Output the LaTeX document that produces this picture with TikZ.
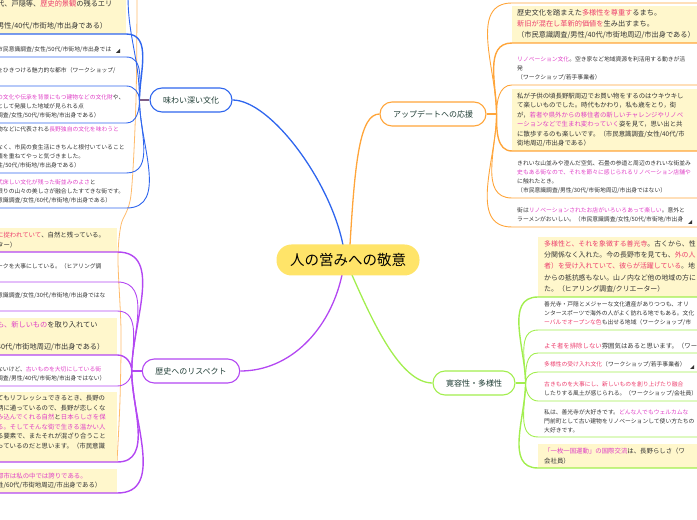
\documentclass[tikz,border=0pt]{standalone}
\usepackage{fontspec}
\setmainfont{Noto Sans CJK JP}
\usepackage{xcolor}
\usepackage{tikz}
\usetikzlibrary{calc}
\definecolor{bblue}{HTML}{2F66EE}
\definecolor{bpurple}{HTML}{B347F2}
\definecolor{borange}{HTML}{FFA53A}
\definecolor{bgreen}{HTML}{A2EE4E}
\definecolor{stubgray}{HTML}{7E5E86}
\definecolor{rootyel}{HTML}{FFE469}
\definecolor{leafbg}{HTML}{FFF7CC}
\definecolor{hubtxt}{HTML}{1E3C34}
\definecolor{txt}{HTML}{333333}
\definecolor{hlred}{HTML}{EC3F6E}
\definecolor{hlpink}{HTML}{DF40C6}
\newcommand{\hlr}[1]{\textcolor{hlred}{#1}}
\newcommand{\hlp}[1]{\textcolor{hlpink}{#1}}
\newcommand{\fsS}{\fontsize{5.8}{9}\selectfont}
\newcommand{\fsM}{\fontsize{6.4}{9.5}\selectfont}
\newcommand{\fsL}{\fontsize{7.2}{10.8}\selectfont}

\begin{document}
\begin{tikzpicture}[x=1pt,y=1pt,
  rootnode/.style={fill=rootyel,rounded corners=15pt,minimum width=143pt,minimum height=31pt,
                   inner sep=0pt,font=\fontsize{14.5}{16}\selectfont},
  topic/.style={draw=#1,fill=white,line width=1.1pt,rounded corners=12pt,minimum width=82pt,
                minimum height=24pt,inner xsep=13pt,inner ysep=0pt,text=hubtxt,font=\fontsize{8}{9}\selectfont},
  note/.style={inner xsep=3pt,inner ysep=4pt,align=left,text=txt,anchor=south west,font=\fsS},
  notebox/.style={note,fill=leafbg},
  branchline/.style={draw=#1,line width=1.3pt},
  stem/.style={draw=#1,line width=1.6pt},
  twig/.style={draw=#1,line width=0.9pt},
  boxtwig/.style={draw=#1,line width=1.4pt}]
\useasboundingbox (0,0) rectangle (697,520);
\clip (0,0) rectangle (697,520);

% stray line on the left
\draw[borange!75,line width=0.8pt] plot[smooth] coordinates
  {(137,522) (136,420) (131,325) (121,295) (118,260) (121,190) (120,120) (117,58)};

% main branches
\coordinate (rtop) at (348,275);
\coordinate (rbot) at (348,245);
\node[topic=bblue] (aji) at (191,420) {味わい深い文化};
\node[topic=bpurple] (reki) at (191,149) {歴史へのリスペクト};
\node[topic=borange] (upd) at (433,406) {アップデートへの応援};
\node[topic=bgreen] (kan) at (474,137) {寛容性・多様性};
\draw[branchline=bblue] ($(rtop)+(-5,0)$) .. controls (330,340) and (270,420) .. (aji.east);
\draw[branchline=borange] ($(rtop)+(2,0)$) .. controls (355,360) and (360,406) .. (upd.west);
\draw[branchline=bpurple] ($(rbot)+(-6,0)$) .. controls (330,190) and (290,149) .. (reki.east);
\draw[branchline=bgreen] ($(rbot)+(4,0)$) .. controls (372,200) and (400,137) .. (kan.west);
\node[rootnode] (root) at (348,260) {人の営みへの敬意};

% --- 味わい深い文化
\coordinate (ajis) at ($(aji.west)+(-10,0)$);
\draw[stem=stubgray] (aji.west) -- (ajis);
\node[notebox,text width=126pt,font=\fsL] (w1) at (-6,486)
  {代、戸隠等、\hlr{歴史的景観}の残るエリ\\~\\男性/40代/市街地/市出身である）};
\node[note,text width=126pt] (w2) at (-6,463) {市民意識調査/女性/50代/市街地/市出身では};
\node[note,text width=126pt] (w3) at (-6,434) {をひきつける魅力的な都市（ワークショップ/\\~};
\node[note,text width=126pt] (w4) at (-6,397)
  {\hlp{の文化や伝承を背景にもつ建物などの文化財}や、\\として発展した地域が見られる点\\調査/女性/50代/市街地/市出身である）};
\node[note,text width=126pt] (w5) at (-6,347)
  {物などに代表される\hlp{長野独自の文化を味わうと}\\~\\なく、市民の食生活にきちんと根付いていること\\値を重ねてやっと気づきました。\\性/50代/市街地/市出身である）};
\node[note,text width=126pt] (w6) at (-6,312)
  {\hlp{式床しい文化が残った街並みのよさ}と\\限りの山々の美しさが融合したすてきな街です。\\意識調査/女性/60代/市街地/市出身である）};
\fill[txt] (116,467) -- (120,467) -- (120,471) -- cycle;
\coordinate (w0) at (128,524);
\draw[twig=bblue] (w0) to[out=-90,in=90] (ajis);
\draw[boxtwig=bblue] (w1.south west) -- (w1.south east) to[out=0,in=90] (ajis);
\draw[twig=bblue] (w2.south west) -- (w2.south east) to[out=0,in=90] (ajis);
\draw[twig=bblue] (w3.south west) -- (w3.south east) to[out=0,in=90] (ajis);
\draw[twig=bblue] (w4.south west) -- (w4.south east) to[out=0,in=270] (ajis);
\draw[twig=bblue] (w5.south west) -- (w5.south east) to[out=0,in=270] (ajis);
\draw[twig=bblue] (w6.south west) -- (w6.south east) to[out=0,in=270] (ajis);

% --- 歴史へのリスペクト
\coordinate (rekis) at ($(reki.west)+(-10,0)$);
\draw[stem=bpurple] (reki.west) -- (rekis);
\node[notebox,text width=117pt,font=\fsM] (h1) at (-6,268) {\hlr{に捉われていて}、自然と残っている。\\ター）};
\node[note,text width=117pt] (h2) at (-6,238) {ークを大事にしている。（ヒアリング調\\~};
\node[note,text width=117pt] (h3) at (-6,209) {意識調査/女性/30代/市街地/市出身ではな\\~};
\node[notebox,text width=117pt,font=\fsL] (h4) at (-6,165)
  {\hlp{も、新しいもの}を取り入れてい\\~\\40代/市街地周辺/市出身である）};
\node[note,text width=117pt] (h5) at (-6,134)
  {ないけど、\hlp{古いものを大切にしている街}\\調査/男性/40代/市街地/市出身ではない）};
\node[notebox,text width=117pt,font=\fsM] (h6) at (-6,58)
  {てもリフレッシュできるとき、長野の\\柄に通っているので、長野が恋しくな\\\hlp{み込んでくれる自然}と\hlp{日本らしさを保}\\\hlp{る。そしてそんな街で生きる温かい人}\\る要素で、またそれが混ざり合うこと\\っているのだと思います。（市民意識\\~};
\node[notebox,text width=117pt,font=\fsM] (h7) at (-6,27)
  {\hlp{都市は私の中では誇りである。}\\性/60代/市街地周辺/市出身である）};
\draw[boxtwig=bpurple] (h1.south west) -- (h1.south east) to[out=0,in=90] (rekis);
\draw[twig=bpurple] (h2.south west) -- (h2.south east) to[out=0,in=90] (rekis);
\draw[twig=bpurple] (h3.south west) -- (h3.south east) to[out=0,in=90] (rekis);
\draw[boxtwig=bpurple] (h4.south west) -- (h4.south east) to[out=0,in=90] (rekis);
\draw[twig=bpurple] (h5.south west) -- (h5.south east) to[out=0,in=270] (rekis);
\draw[boxtwig=bpurple] (h6.south west) -- (h6.south east) to[out=0,in=270] (rekis);
\draw[boxtwig=bpurple] (h7.south west) -- (h7.south east) to[out=0,in=270] (rekis);

% --- アップデートへの応援
\coordinate (upds) at ($(upd.east)+(10,0)$);
\draw[stem=borange] (upd.east) -- (upds);
\node[notebox,text width=300pt,inner xsep=5pt,font=\fsL] (u1) at (512,477)
  {歴史文化を踏まえた\hlr{多様性を尊重す}るまち。\\\hlr{新旧が混在し革新的価値を}生み出すまち。\\（市民意識調査/男性/40代/市街地周辺/市出身である）};
\node[note,text width=300pt,inner xsep=5pt] (u2) at (512,435)
  {\hlp{リノベーション文化}。空き家など地域資源を利活用する動きが活\\発\\（ワークショップ/若手事業者）};
\node[notebox,text width=300pt,inner xsep=5pt,font=\fsM] (u3) at (512,369)
  {私が子供の頃長野駅周辺でお買い物をするのはウキウキし\\て楽しいものでした。時代もかわり，私も歳をとり，街\\が，\hlp{若者や県外からの移住者の新しいチャレンジやリノベ}\\\hlp{ーションなどで生まれ変わっていく}姿を見て，思い出と共\\に散歩するのも楽しいです。（市民意識調査/女性/40代/市\\街地周辺/市出身である）};
\node[note,text width=300pt,inner xsep=5pt] (u4) at (512,322)
  {きれいな山並みや澄んだ空気、石畳の参道と周辺のきれいな街並み\\\hlp{史もある街なので、それを節々に感じられるリノベーション店舗や}\\に触れたとき。\\（市民意識調査/男性/30代/市街地周辺/市出身ではない）};
\node[note,text width=300pt,inner xsep=5pt] (u5) at (512,293)
  {街は\hlp{リノベーションされたお店がいろいろあって楽しい}。意外と\\ラーメンがおいしい。（市民意識調査/女性/50代/市街地/市出身};
\fill[txt] (688,296) -- (692,296) -- (692,300) -- cycle;
\coordinate (u0) at (512,517);
\draw[twig=borange] (700,517) -- (u0) to[out=180,in=90] (upds);
\draw[boxtwig=borange] (u1.south east) -- (u1.south west) to[out=180,in=90] (upds);
\draw[twig=borange] (u2.south east) -- (u2.south west) to[out=180,in=90] (upds);
\draw[boxtwig=borange] (u3.south east) -- (u3.south west) to[out=180,in=270] (upds);
\draw[twig=borange] (u4.south east) -- (u4.south west) to[out=180,in=270] (upds);
\draw[twig=borange] (u5.south east) -- (u5.south west) to[out=180,in=270] (upds);

% --- 寛容性・多様性
\coordinate (kans) at ($(kan.east)+(10,0)$);
\draw[stem=bgreen] (kan.east) -- (kans);
\node[notebox,text width=300pt,inner xsep=6pt,font=\fontsize{6.9}{11.3}\selectfont] (k1) at (538,223)
  {\hlr{多様性と、それを象徴する善光寺}。古くから、性\\分関係なく入れた。今の長野市を見ても、\hlr{外の人}\\\hlr{者）を受け入れていて、彼らが活躍している}。地\\からの抵抗感もない。山ノ内など他の地域の方に\\た。（ヒアリング調査/クリエーター）};
\node[note,text width=300pt,inner xsep=6pt] (k2) at (538,190)
  {善光寺・戸隠とメジャーな文化遺産がありつつも、オリ\\ンタースポーツで海外の人がよく訪れる地でもある。文化\\\hlr{ーバルでオープンな色}も出せる地域（ワークショップ/市};
\node[note,text width=300pt,inner xsep=6pt,font=\fsM] (k3) at (538,167)
  {\hlr{よそ者を排除しない}雰囲気はあると思います。（ワー};
\node[note,text width=300pt,inner xsep=6pt] (k4) at (538,148)
  {\hlr{多様性の受け入れ文化}（ワークショップ/若手事業者）};
\fill[txt] (690,151) -- (694,151) -- (694,155) -- cycle;
\node[note,text width=300pt,inner xsep=6pt] (k5) at (538,119)
  {\hlr{古きものを大事にし、新しいものを創り上げたり融合}\\したりする風土が感じられる。（ワークショップ/会社員）};
\node[note,text width=300pt,inner xsep=6pt] (k6) at (538,83)
  {私は、善光寺が大好きです。\hlp{どんな人でもウェルカムな}\\門前町として古い建物をリノベーションして使い方たちの\\大好きです。};
\node[notebox,text width=300pt,inner xsep=6pt,font=\fsM] (k7) at (538,52)
  {\hlp{「一枚一国運動」の国際交流}は、長野らしさ（ワ\\会社員）};
\draw[boxtwig=bgreen] (k1.south east) -- (k1.south west) to[out=180,in=90] (kans);
\draw[twig=bgreen] (k2.south east) -- (k2.south west) to[out=180,in=90] (kans);
\draw[twig=bgreen] (k3.south east) -- (k3.south west) to[out=180,in=90] (kans);
\draw[twig=bgreen] (k4.south east) -- (k4.south west) to[out=180,in=90] (kans);
\draw[twig=bgreen] (k5.south east) -- (k5.south west) to[out=180,in=270] (kans);
\draw[twig=bgreen] (k6.south east) -- (k6.south west) to[out=180,in=270] (kans);
\draw[boxtwig=bgreen] (k7.south east) -- (k7.south west) to[out=180,in=270] (kans);
\end{tikzpicture}
\end{document}
